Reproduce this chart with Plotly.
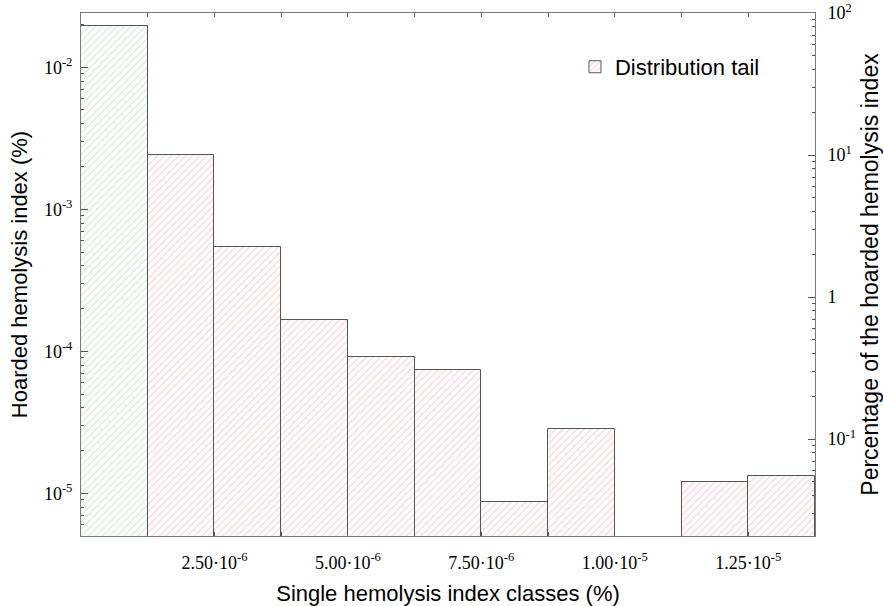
import math
import plotly.graph_objects as go

# Class width and bin centres (single hemolysis index classes, %)
bin_width = 1.25e-6
bin_centers = [bin_width * (k + 0.5) for k in range(11)]

# Hoarded hemolysis index per class (%); class 9 is empty
hoarded = [1.954e-2, 2.40e-3, 5.40e-4, 1.66e-4, 9.08e-5, 7.42e-5,
           8.73e-6, 2.82e-5, None, 1.20e-5, 1.32e-5]

# Axis settings
y_min, y_max = 5.0e-6, 2.41e-2
x_max = 1.375e-5
x_tick_vals = [bin_width * k for k in range(1, 11)]
x_tick_text = ["", "2.50·10<sup>-6</sup>", "", "5.00·10<sup>-6</sup>", "",
               "7.50·10<sup>-6</sup>", "", "1.00·10<sup>-5</sup>", "",
               "1.25·10<sup>-5</sup>"]
y_tick_vals = [1e-5, 1e-4, 1e-3, 1e-2]
y_tick_text = ["10<sup>-5</sup>", "10<sup>-4</sup>", "10<sup>-3</sup>", "10<sup>-2</sup>"]
y2_tick_vals = [0.1, 1, 10, 100]
y2_tick_text = ["10<sup>-1</sup>", "1", "10<sup>1</sup>", "10<sup>2</sup>"]


def minor_log_ticks(first_exp, last_exp):
    """Return 2..9 x 10^e positions for e in [first_exp, last_exp]."""
    return [m * 10.0 ** e for e in range(first_exp, last_exp + 1) for m in range(2, 10)]


SANS = "Liberation Sans, Arial, sans-serif"
SERIF = "Liberation Serif, Times New Roman, serif"
EDGE = "#555555"
AXIS = "#7a7a7a"

fig = go.Figure()

# First class (bulk of the distribution), green hatching
fig.add_trace(go.Bar(
    x=bin_centers[:1], y=hoarded[:1], width=bin_width,
    marker=dict(color="white", line=dict(color=EDGE, width=1),
                pattern=dict(shape="/", fgcolor="#a9d9a9", bgcolor="white",
                             size=5, solidity=0.25)),
    showlegend=False, name="Main class",
))

# Remaining classes: distribution tail, pink hatching
fig.add_trace(go.Bar(
    x=bin_centers[1:], y=hoarded[1:], width=bin_width,
    marker=dict(color="white", line=dict(color=EDGE, width=1),
                pattern=dict(shape="/", fgcolor="#f4a9a9", bgcolor="white",
                             size=5, solidity=0.25)),
    name="Distribution tail",
))

# Dummy trace so the percentage axis on the right is drawn
fig.add_trace(go.Scatter(x=[None], y=[None], yaxis="y2", showlegend=False,
                         hoverinfo="skip"))

total = y_max
fig.update_layout(
    width=883, height=606,
    margin=dict(l=81, r=68, t=13, b=70, autoexpand=False),
    paper_bgcolor="white", plot_bgcolor="white",
    barmode="overlay", bargap=0,
    font=dict(family=SANS, color="black"),
    xaxis=dict(
        range=[0, x_max], tickmode="array", tickvals=x_tick_vals,
        ticktext=x_tick_text, ticks="inside", ticklen=4, tickcolor=EDGE,
        showline=True, linecolor=AXIS, linewidth=1, mirror="ticks",
        showgrid=False, zeroline=False, ticklabelstandoff=10,
        automargin=False,
        tickfont=dict(family=SERIF, size=18, color="black"),
        title=dict(text="Single hemolysis index classes (%)",
                   font=dict(family=SANS, size=22)),
    ),
    yaxis=dict(
        type="log", range=[math.log10(y_min), math.log10(y_max)],
        tickmode="array", tickvals=y_tick_vals, ticktext=y_tick_text,
        ticks="inside", ticklen=7, tickcolor=EDGE,
        minor=dict(ticks="inside", ticklen=3, tickcolor=EDGE, showgrid=False,
                   tickmode="array", tickvals=minor_log_ticks(-6, -2)),
        showline=True, linecolor=AXIS, linewidth=1,
        showgrid=False, zeroline=False, ticklabelstandoff=4,
        automargin=True,
        tickfont=dict(family=SERIF, size=18, color="black"),
        title=dict(text="Hoarded hemolysis index (%)",
                   font=dict(family=SANS, size=22), standoff=10),
    ),
    yaxis2=dict(
        type="log", overlaying="y", side="right",
        range=[math.log10(y_min / total * 100), 2],
        tickmode="array", tickvals=y2_tick_vals, ticktext=y2_tick_text,
        ticks="inside", ticklen=7, tickcolor=EDGE,
        minor=dict(ticks="inside", ticklen=3, tickcolor=EDGE, showgrid=False,
                   tickmode="array", tickvals=minor_log_ticks(-2, 1)),
        showline=True, linecolor=AXIS, linewidth=1,
        showgrid=False, zeroline=False, ticklabelstandoff=8,
        automargin=False,
        tickfont=dict(family=SERIF, size=18, color="black"),
        title=dict(text="Percentage of the hoarded hemolysis index",
                   font=dict(family=SANS, size=23)),
    ),
    legend=dict(x=0.673, y=0.937, xanchor="left", yanchor="top",
                bgcolor="rgba(0,0,0,0)", font=dict(family=SANS, size=22),
                itemwidth=30),
)

fig.write_html("out.html")
